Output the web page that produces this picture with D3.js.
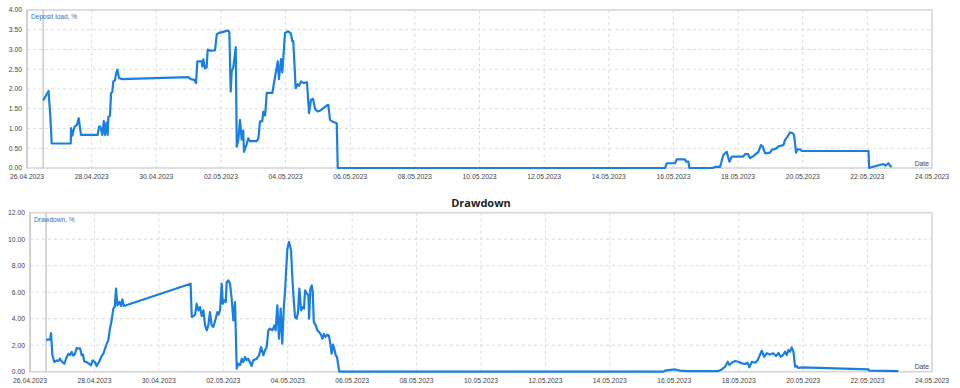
<!DOCTYPE html>
<html>
<head>
<meta charset="utf-8">
<script src="https://cdn.jsdelivr.net/npm/d3@7"></script>
<style>
  body { margin: 0; background: #fff; }
  svg { display: block; font-family: 'Liberation Sans', Arial, sans-serif; }
  .tick-label { font-size: 6.8px; fill: #444; }
  .series-label { font-size: 6.6px; fill: #2f72c0; }
  .title { font-family: 'Open Sans', sans-serif; font-size: 11px; font-weight: bold; fill: #222; }
</style>
</head>
<body>
<svg id="chart" width="960" height="388"></svg>
<script>
// ======== data ========
var dateTicks = ['26.04.2023', '28.04.2023', '30.04.2023', '02.05.2023', '04.05.2023', '06.05.2023', '08.05.2023',
  '10.05.2023', '12.05.2023', '14.05.2023', '16.05.2023', '18.05.2023', '20.05.2023', '22.05.2023', '24.05.2023']
var loadTicks = [0, 0.5, 1, 1.5, 2, 2.5, 3, 3.5, 4]
var drawdownTicks = [0, 2, 4, 6, 8, 10, 12]

// deposit load, %
var loadSeries = [
  ['2023-04-26 12:00', 1.71], ['2023-04-26 16:00', 1.95], ['2023-04-26 17:20', 1.30], ['2023-04-26 18:20', 0.62],
  ['2023-04-27 08:30', 0.62], ['2023-04-27 08:40', 1.01], ['2023-04-27 09:40', 0.82], ['2023-04-27 10:30', 0.95],
  ['2023-04-27 11:25', 1.05], ['2023-04-27 12:55', 1.08], ['2023-04-27 14:25', 1.26], ['2023-04-27 16:05', 0.84],
  ['2023-04-28 04:30', 0.84], ['2023-04-28 05:30', 1.05], ['2023-04-28 06:25', 1.05], ['2023-04-28 07:55', 0.84],
  ['2023-04-28 09:00', 1.19], ['2023-04-28 09:55', 0.84], ['2023-04-28 11:00', 1.15], ['2023-04-28 11:55', 0.84],
  ['2023-04-28 12:25', 1.30], ['2023-04-28 13:35', 1.32], ['2023-04-28 14:25', 1.90], ['2023-04-28 15:20', 1.92],
  ['2023-04-28 16:05', 2.19], ['2023-04-28 17:20', 2.22], ['2023-04-28 17:55', 2.35], ['2023-04-28 19:05', 2.49],
  ['2023-04-28 20:20', 2.28], ['2023-04-28 22:20', 2.25], ['2023-04-30 23:50', 2.30], ['2023-05-01 01:35', 2.25],
  ['2023-05-01 04:15', 2.23], ['2023-05-01 05:30', 2.15], ['2023-05-01 06:30', 2.70], ['2023-05-01 09:45', 2.70],
  ['2023-05-01 10:10', 2.57], ['2023-05-01 10:55', 2.75], ['2023-05-01 12:10', 2.52], ['2023-05-01 13:25', 2.55],
  ['2023-05-01 14:10', 3.00], ['2023-05-01 15:55', 2.97], ['2023-05-01 19:35', 2.98], ['2023-05-01 20:55', 3.38],
  ['2023-05-01 22:35', 3.42], ['2023-05-02 03:00', 3.46], ['2023-05-02 05:30', 3.48], ['2023-05-02 06:15', 3.43],
  ['2023-05-02 07:15', 1.94], ['2023-05-02 08:00', 2.44], ['2023-05-02 09:10', 2.55], ['2023-05-02 11:00', 3.06],
  ['2023-05-02 11:45', 0.54], ['2023-05-02 12:55', 0.70], ['2023-05-02 14:10', 1.22], ['2023-05-02 15:25', 0.72],
  ['2023-05-02 16:35', 0.95], ['2023-05-02 17:05', 0.41], ['2023-05-02 19:05', 0.60], ['2023-05-02 20:20', 0.75],
  ['2023-05-02 21:35', 0.68], ['2023-05-03 02:35', 0.68], ['2023-05-03 03:50', 0.75], ['2023-05-03 05:00', 1.18],
  ['2023-05-03 06:40', 1.18], ['2023-05-03 07:30', 1.43], ['2023-05-03 08:50', 1.33], ['2023-05-03 10:00', 1.90],
  ['2023-05-03 14:10', 1.90], ['2023-05-03 15:35', 2.19], ['2023-05-03 18:10', 2.70], ['2023-05-03 19:05', 2.25],
  ['2023-05-03 20:35', 2.76], ['2023-05-03 21:35', 2.42], ['2023-05-03 23:35', 3.42], ['2023-05-04 02:00', 3.46],
  ['2023-05-04 04:00', 3.40], ['2023-05-04 05:00', 3.21], ['2023-05-04 05:45', 3.21], ['2023-05-04 07:30', 2.02],
  ['2023-05-04 09:00', 2.12], ['2023-05-04 10:00', 2.08], ['2023-05-04 11:30', 2.19], ['2023-05-04 13:30', 2.15],
  ['2023-05-04 15:55', 2.17], ['2023-05-04 17:25', 1.39], ['2023-05-04 18:55', 1.73], ['2023-05-04 20:25', 1.75],
  ['2023-05-04 21:55', 1.49], ['2023-05-04 23:55', 1.43], ['2023-05-05 01:35', 1.45], ['2023-05-05 05:20', 1.55],
  ['2023-05-05 07:45', 1.60], ['2023-05-05 09:00', 1.22], ['2023-05-05 10:40', 1.18], ['2023-05-05 14:00', 1.13],
  ['2023-05-05 14:45', 0], ['2023-05-15 17:50', 0], ['2023-05-15 19:00', 0.12], ['2023-05-16 01:10', 0.12],
  ['2023-05-16 02:30', 0.22], ['2023-05-16 08:35', 0.22], ['2023-05-16 09:25', 0.16], ['2023-05-16 11:05', 0.16],
  ['2023-05-16 11:50', 0], ['2023-05-17 05:25', 0], ['2023-05-17 07:00', 0.03], ['2023-05-17 10:40', 0.03],
  ['2023-05-17 13:05', 0.33], ['2023-05-17 15:35', 0.41], ['2023-05-17 17:35', 0.16], ['2023-05-17 19:20', 0.29],
  ['2023-05-18 03:55', 0.29], ['2023-05-18 05:10', 0.35], ['2023-05-18 07:25', 0.35], ['2023-05-18 08:55', 0.25],
  ['2023-05-18 11:25', 0.30], ['2023-05-18 15:05', 0.41], ['2023-05-18 16:55', 0.58], ['2023-05-18 18:20', 0.54],
  ['2023-05-18 20:05', 0.37], ['2023-05-18 23:50', 0.39], ['2023-05-19 01:00', 0.46], ['2023-05-19 04:10', 0.49],
  ['2023-05-19 06:00', 0.55], ['2023-05-19 09:40', 0.58], ['2023-05-19 10:55', 0.71], ['2023-05-19 12:35', 0.79],
  ['2023-05-19 14:35', 0.90], ['2023-05-19 16:35', 0.88], ['2023-05-19 17:35', 0.83], ['2023-05-19 19:05', 0.39],
  ['2023-05-19 20:00', 0.47], ['2023-05-19 22:00', 0.47], ['2023-05-19 23:20', 0.43], ['2023-05-22 00:50', 0.43],
  ['2023-05-22 01:20', 0], ['2023-05-22 02:50', 0.02], ['2023-05-22 11:55', 0.10], ['2023-05-22 13:30', 0.06],
  ['2023-05-22 15:35', 0.12], ['2023-05-22 16:55', 0.05], ['2023-05-22 18:10', 0.03]
]

// drawdown, %
var drawdownSeries = [
  ['2023-04-26 12:00', 2.42], ['2023-04-26 15:00', 2.42], ['2023-04-26 15:40', 2.92], ['2023-04-26 16:40', 1.24],
  ['2023-04-26 18:05', 0.73], ['2023-04-26 19:55', 0.85], ['2023-04-26 21:05', 0.80], ['2023-04-26 22:20', 0.98],
  ['2023-04-26 23:35', 0.78], ['2023-04-27 01:35', 0.60], ['2023-04-27 03:20', 1.11], ['2023-04-27 04:35', 1.36],
  ['2023-04-27 05:50', 1.24], ['2023-04-27 07:05', 1.49], ['2023-04-27 08:15', 1.21], ['2023-04-27 09:30', 1.36],
  ['2023-04-27 10:50', 1.79], ['2023-04-27 12:30', 1.74], ['2023-04-27 13:20', 1.76], ['2023-04-27 14:30', 1.24],
  ['2023-04-27 15:30', 1.30], ['2023-04-27 16:25', 0.78], ['2023-04-27 18:15', 0.73], ['2023-04-27 20:00', 0.60],
  ['2023-04-27 21:25', 0.48], ['2023-04-27 22:40', 0.86], ['2023-04-28 00:25', 0.73], ['2023-04-28 01:40', 0.43],
  ['2023-04-28 03:25', 0.73], ['2023-04-28 05:25', 1.18], ['2023-04-28 06:40', 1.36], ['2023-04-28 07:55', 1.74],
  ['2023-04-28 09:10', 2.11], ['2023-04-28 10:20', 2.36], ['2023-04-28 11:35', 3.25], ['2023-04-28 12:50', 3.88],
  ['2023-04-28 14:05', 4.76], ['2023-04-28 15:10', 4.90], ['2023-04-28 16:05', 6.27], ['2023-04-28 17:05', 5.01],
  ['2023-04-28 18:35', 5.26], ['2023-04-28 19:50', 4.96], ['2023-04-28 20:45', 5.46], ['2023-04-28 22:00', 4.96],
  ['2023-04-30 23:40', 6.64], ['2023-05-01 00:30', 4.13], ['2023-05-01 01:45', 4.20], ['2023-05-01 03:00', 4.30],
  ['2023-05-01 04:10', 5.13], ['2023-05-01 05:25', 4.63], ['2023-05-01 06:40', 4.88], ['2023-05-01 07:55', 4.20],
  ['2023-05-01 09:10', 4.63], ['2023-05-01 10:25', 3.50], ['2023-05-01 11:40', 3.12], ['2023-05-01 12:50', 3.50],
  ['2023-05-01 14:05', 4.50], ['2023-05-01 15:20', 3.50], ['2023-05-01 16:35', 3.37], ['2023-05-01 18:20', 4.00],
  ['2023-05-01 19:35', 4.50], ['2023-05-01 20:30', 4.30], ['2023-05-01 21:35', 4.63], ['2023-05-01 22:50', 6.64],
  ['2023-05-01 23:35', 5.13], ['2023-05-02 00:50', 5.40], ['2023-05-02 01:50', 5.26], ['2023-05-02 02:35', 6.77],
  ['2023-05-02 03:50', 6.89], ['2023-05-02 05:00', 6.64], ['2023-05-02 06:15', 5.51], ['2023-05-02 07:30', 3.88],
  ['2023-05-02 08:45', 5.26], ['2023-05-02 10:00', 0.23], ['2023-05-02 11:15', 0.60], ['2023-05-02 12:30', 0.50],
  ['2023-05-02 13:45', 0.98], ['2023-05-02 14:55', 0.73], ['2023-05-02 16:10', 1.11], ['2023-05-02 17:20', 0.86],
  ['2023-05-02 18:35', 0.98], ['2023-05-02 19:50', 0.73], ['2023-05-02 21:10', 0.43], ['2023-05-02 22:20', 0.86],
  ['2023-05-03 00:55', 0.98], ['2023-05-03 02:40', 1.24], ['2023-05-03 04:10', 1.86], ['2023-05-03 05:50', 1.24],
  ['2023-05-03 07:05', 1.61], ['2023-05-03 08:20', 1.86], ['2023-05-03 09:35', 3.12], ['2023-05-03 10:50', 3.25],
  ['2023-05-03 12:35', 3.12], ['2023-05-03 14:05', 3.50], ['2023-05-03 15:00', 3.12], ['2023-05-03 16:15', 5.01],
  ['2023-05-03 17:30', 2.49], ['2023-05-03 18:45', 4.76], ['2023-05-03 19:55', 2.11], ['2023-05-03 21:15', 5.13],
  ['2023-05-03 22:00', 6.02], ['2023-05-03 22:45', 7.52], ['2023-05-03 23:45', 9.28], ['2023-05-04 01:00', 9.79],
  ['2023-05-04 02:30', 9.16], ['2023-05-04 03:30', 7.02], ['2023-05-04 04:15', 5.80], ['2023-05-04 05:25', 4.13],
  ['2023-05-04 06:40', 4.00], ['2023-05-04 07:40', 4.50], ['2023-05-04 08:40', 6.27], ['2023-05-04 09:55', 4.63],
  ['2023-05-04 11:00', 4.88], ['2023-05-04 12:10', 4.76], ['2023-05-04 12:55', 6.14], ['2023-05-04 14:10', 5.90],
  ['2023-05-04 15:25', 5.77], ['2023-05-04 15:55', 4.00], ['2023-05-04 16:55', 6.27], ['2023-05-04 17:55', 6.52],
  ['2023-05-04 18:40', 6.02], ['2023-05-04 19:25', 3.75], ['2023-05-04 20:55', 3.50], ['2023-05-04 22:05', 3.12],
  ['2023-05-04 23:20', 3.00], ['2023-05-05 00:50', 2.79], ['2023-05-05 01:50', 2.49], ['2023-05-05 03:00', 2.86],
  ['2023-05-05 04:10', 2.61], ['2023-05-05 05:30', 2.79], ['2023-05-05 06:40', 2.74], ['2023-05-05 07:45', 2.11],
  ['2023-05-05 08:45', 1.36], ['2023-05-05 09:45', 2.05], ['2023-05-05 10:45', 1.70], ['2023-05-05 11:45', 1.24],
  ['2023-05-05 12:45', 1.11], ['2023-05-05 13:40', 0.48], ['2023-05-05 14:25', 0], ['2023-05-15 16:00', 0],
  ['2023-05-15 17:05', 0.08], ['2023-05-15 19:35', 0.12], ['2023-05-16 00:35', 0.17], ['2023-05-16 04:20', 0.08],
  ['2023-05-16 09:15', 0.05], ['2023-05-17 08:50', 0.05], ['2023-05-17 11:20', 0.17], ['2023-05-17 13:50', 0.37],
  ['2023-05-17 15:50', 0.75], ['2023-05-17 17:05', 0.50], ['2023-05-17 18:50', 0.68], ['2023-05-17 21:20', 0.81],
  ['2023-05-17 23:45', 0.75], ['2023-05-18 02:15', 0.63], ['2023-05-18 04:45', 0.58], ['2023-05-18 06:30', 0.68],
  ['2023-05-18 07:55', 0.33], ['2023-05-18 09:45', 0.75], ['2023-05-18 12:10', 0.68], ['2023-05-18 13:55', 0.83],
  ['2023-05-18 15:25', 1.18], ['2023-05-18 17:10', 1.58], ['2023-05-18 18:55', 1.13], ['2023-05-18 20:55', 1.39],
  ['2023-05-18 23:20', 1.30], ['2023-05-19 01:50', 1.39], ['2023-05-19 03:50', 1.18], ['2023-05-19 05:35', 1.42],
  ['2023-05-19 07:20', 1.13], ['2023-05-19 09:00', 1.26], ['2023-05-19 10:35', 1.51], ['2023-05-19 11:50', 1.26],
  ['2023-05-19 13:00', 1.64], ['2023-05-19 14:15', 1.51], ['2023-05-19 15:30', 1.84], ['2023-05-19 16:45', 1.51],
  ['2023-05-19 18:00', 0.38], ['2023-05-19 19:10', 0.43], ['2023-05-19 20:25', 0.28], ['2023-05-19 23:00', 0.33],
  ['2023-05-22 00:40', 0.18], ['2023-05-22 01:10', 0.08], ['2023-05-22 23:00', 0.05]
]

// ======== helpers ========
var parseTime = d3.timeParse('%Y-%m-%d %H:%M')
var parseTick = d3.timeParse('%d.%m.%Y')
var fmt = d3.format('.2f')
var lineColor = '#1a7fe3'

var svg = d3.select('#chart')

function drawChart (cfg) {
  var data = cfg.series.map(function (d) { return { t: parseTime(d[0]), v: d[1] } })
  var tickDates = dateTicks.map(parseTick)

  var x = d3.scaleTime()
    .domain([tickDates[0], tickDates[tickDates.length - 1]])
    .range([cfg.left, cfg.right])
  var y = d3.scaleLinear()
    .domain([0, cfg.ticks[cfg.ticks.length - 1]])
    .range([cfg.bottom, cfg.top])

  var g = svg.append('g')

  // grid - dashed
  g.selectAll('.hgrid')
    .data(cfg.ticks.slice(1, -1))
    .enter()
    .append('line')
    .attr('x1', cfg.left).attr('x2', cfg.right)
    .attr('y1', function (d) { return y(d) }).attr('y2', function (d) { return y(d) })
    .attr('stroke', '#dcdcdc').attr('stroke-dasharray', '3,3')
  g.selectAll('.vgrid')
    .data(tickDates.slice(1, -1))
    .enter()
    .append('line')
    .attr('x1', function (d) { return x(d) }).attr('x2', function (d) { return x(d) })
    .attr('y1', cfg.top).attr('y2', cfg.bottom)
    .attr('stroke', '#dcdcdc').attr('stroke-dasharray', '3,3')

  // frame
  g.append('rect')
    .attr('x', cfg.left).attr('y', cfg.top)
    .attr('width', cfg.right - cfg.left).attr('height', cfg.bottom - cfg.top)
    .attr('fill', 'none').attr('stroke', '#d6d6d6').attr('stroke-width', 1.6)
  g.append('line')
    .attr('x1', cfg.left).attr('x2', cfg.left)
    .attr('y1', cfg.top).attr('y2', cfg.bottom)
    .attr('stroke', '#c4c4c4')

  // marker where the data starts
  g.append('line')
    .attr('x1', x(data[0].t)).attr('x2', x(data[0].t))
    .attr('y1', cfg.top).attr('y2', cfg.bottom)
    .attr('stroke', '#bdbdbd').attr('stroke-width', 1.2)

  // y tick labels
  g.selectAll('.ylab')
    .data(cfg.ticks)
    .enter()
    .append('text')
    .attr('class', 'tick-label')
    .attr('x', cfg.left - 5)
    .attr('y', function (d) { return y(d) + 2.4 })
    .attr('text-anchor', 'end')
    .text(function (d) { return fmt(d) })

  // x tick labels
  g.selectAll('.xlab')
    .data(tickDates)
    .enter()
    .append('text')
    .attr('class', 'tick-label')
    .attr('x', function (d) { return x(d) })
    .attr('y', cfg.bottom + 11)
    .attr('text-anchor', 'middle')
    .text(function (d, i) { return dateTicks[i] })

  // series line
  var line = d3.line()
    .x(function (d) { return x(d.t) })
    .y(function (d) { return y(d.v) })
  g.append('path')
    .datum(data)
    .attr('d', line)
    .attr('fill', 'none')
    .attr('stroke', lineColor)
    .attr('stroke-width', 2.2)
    .attr('stroke-linejoin', 'round')

  // labels
  g.append('text')
    .attr('class', 'series-label')
    .attr('x', cfg.left + 4)
    .attr('y', cfg.top + 9)
    .text(cfg.label)
  g.append('text')
    .attr('class', 'tick-label')
    .attr('x', cfg.right - 3)
    .attr('y', cfg.bottom - 2.5)
    .attr('text-anchor', 'end')
    .text('Date')

  if (cfg.title) {
    svg.append('text')
      .attr('class', 'title')
      .attr('x', (cfg.left + cfg.right) / 2)
      .attr('y', cfg.top - 6)
      .attr('text-anchor', 'middle')
      .text(cfg.title)
  }
}

drawChart({ series: loadSeries, ticks: loadTicks, label: 'Deposit load, %', left: 27, right: 932, top: 10, bottom: 168 })
drawChart({ series: drawdownSeries, ticks: drawdownTicks, label: 'Drawdown, %', title: 'Drawdown', left: 30, right: 932, top: 212.7, bottom: 371.7 })
</script>
</body>
</html>
